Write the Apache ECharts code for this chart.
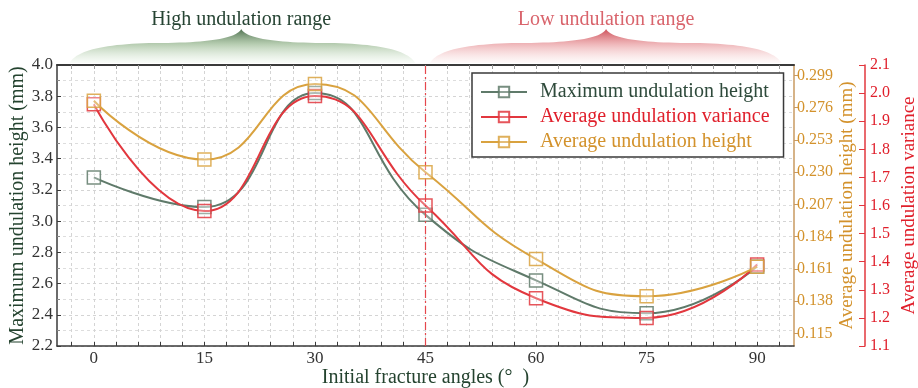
<!DOCTYPE html>
<html>
<head>
<meta charset="utf-8">
<script src="https://cdn.jsdelivr.net/npm/echarts@6/dist/echarts.min.js"></script>
<style>
  html, body { margin: 0; padding: 0; background: #ffffff; }
  #chart { width: 918px; height: 388px; }
</style>
</head>
<body>
<div id="chart"></div>
<script>
// Initial fracture angle (degrees) for each test
const angles = [0, 15, 30, 45, 60, 75, 90];
// Maximum undulation height (mm), left axis
const maxHeight = [3.28, 3.09, 3.82, 3.04, 2.62, 2.41, 2.71];
// Average undulation variance, outer right axis
const avgVariance = [1.96, 1.58, 1.99, 1.60, 1.27, 1.20, 1.39];
// Average undulation height (mm), inner right axis
const avgHeight = [0.281, 0.239, 0.293, 0.230, 0.168, 0.1415, 0.1626];

// Tick labels
const angleTicks = [0, 15, 30, 45, 60, 75, 90];
const angleMinorTicks = [-3, 0, 3, 6, 9, 12, 15, 18, 21, 24, 27, 30, 33, 36, 39, 42, 45, 48,
  51, 54, 57, 60, 63, 66, 69, 72, 75, 78, 81, 84, 87, 90, 93];
const avgHeightTicks = [0.115, 0.138, 0.161, 0.184, 0.207, 0.230, 0.253, 0.276, 0.299];

// Range annotations above the plot (in angle units)
const highRange = { label: 'High undulation range', from: -3.3, to: 43.6, peak: 20 };
const lowRange = { label: 'Low undulation range', from: 45.6, to: 93.3, peak: 69.5 };

const FONT = "'Liberation Serif', 'Times New Roman', serif";
const GREEN = '#5f7a6a';
const RED = '#e2373e';
const GOLD = '#d9a23f';
const GOLD_TEXT = '#d3922c';
const AXIS_DARK = '#3a3a3a';
const GRID_LINE = { show: true, lineStyle: { color: '#d4d4d4', type: [3, 3], width: 1 } };

const chart = echarts.init(document.getElementById('chart'), null, { renderer: 'canvas' });

function pairs(values) {
  return angles.map((a, i) => [a, values[i]]);
}

function markerStyle(color) {
  return {
    color: 'rgba(255,255,255,0.35)',
    borderColor: color,
    borderWidth: 1.5,
    opacity: 0.85
  };
}

const option = {
  backgroundColor: '#ffffff',
  animation: false,
  textStyle: { fontFamily: FONT },
  grid: { left: 57, right: 124, top: 65, bottom: 42, containLabel: false, outerBoundsMode: 'none' },
  legend: {
    orient: 'vertical',
    left: 472,
    top: 73,
    backgroundColor: '#ffffff',
    borderColor: AXIS_DARK,
    borderWidth: 1.5,
    padding: [9, 14, 5, 8],
    itemWidth: 46,
    itemHeight: 13,
    itemGap: 5,
    textStyle: { fontFamily: FONT, fontSize: 20, padding: [0, 0, 0, 8] },
    data: [
      { name: 'Maximum undulation height', textStyle: { color: '#2e4a3b' } },
      { name: 'Average undulation variance', textStyle: { color: '#e01f2b' } },
      { name: 'Average undulation height', textStyle: { color: GOLD_TEXT } }
    ]
  },
  xAxis: [
    {
      type: 'value',
      min: -5,
      max: 95,
      name: 'Initial fracture angles (°  )',
      nameLocation: 'middle',
      nameGap: 22,
      nameMoveOverlap: false,
      nameTextStyle: { fontFamily: FONT, fontSize: 20, color: '#24432f', verticalAlign: 'top' },
      axisLine: { show: true, onZero: false, lineStyle: { color: AXIS_DARK, width: 1.5 } },
      axisTick: { show: true, inside: true, length: 4, customValues: angleMinorTicks,
        lineStyle: { color: AXIS_DARK } },
      axisLabel: { customValues: angleTicks, fontFamily: FONT, fontSize: 17, color: '#333', margin: 4 },
      splitLine: GRID_LINE
    },
    {
      type: 'value',
      position: 'top',
      min: -5,
      max: 95,
      axisLine: { show: true, onZero: false, lineStyle: { color: AXIS_DARK, width: 2 } },
      axisTick: { show: true, inside: true, length: 4, customValues: angleMinorTicks,
        lineStyle: { color: '#999' } },
      axisLabel: { show: false },
      splitLine: { show: false }
    }
  ],
  yAxis: [
    {
      type: 'value',
      position: 'left',
      min: 2.2,
      max: 4.0,
      interval: 0.2,
      name: 'Maximum undulation height (mm)',
      nameLocation: 'middle',
      nameRotate: 90,
      nameGap: 29,
      nameMoveOverlap: false,
      nameTextStyle: { fontFamily: FONT, fontSize: 20, color: '#24432f' },
      axisLine: { show: true, onZero: false, lineStyle: { color: AXIS_DARK, width: 1.5 } },
      axisTick: { show: true, inside: true, length: 4, lineStyle: { color: AXIS_DARK } },
      minorTick: { show: true, splitNumber: 2, length: 3, lineStyle: { color: '#888' } },
      axisLabel: { fontFamily: FONT, fontSize: 17, color: '#333', margin: 4,
        formatter: v => v.toFixed(1) },
      splitLine: GRID_LINE,
      minorSplitLine: { show: true, lineStyle: { color: '#dddddd', type: [3, 3], width: 1 } }
    },
    {
      type: 'value',
      position: 'right',
      min: 0.106,
      max: 0.3065,
      offset: 0,
      name: 'Average undulation height (mm)',
      nameLocation: 'middle',
      nameRotate: 90,
      nameGap: 44,
      nameMoveOverlap: false,
      nameTextStyle: { fontFamily: FONT, fontSize: 19, color: GOLD_TEXT },
      axisLine: { show: true, onZero: false, lineStyle: { color: '#c99a60', width: 1.5 } },
      axisTick: { show: true, inside: false, length: 4, customValues: avgHeightTicks,
        lineStyle: { color: '#c99a60' } },
      axisLabel: { customValues: avgHeightTicks, fontFamily: FONT, fontSize: 16,
        color: GOLD_TEXT, margin: 3, formatter: v => v.toFixed(3) },
      splitLine: { show: false }
    },
    {
      type: 'value',
      position: 'right',
      min: 1.1,
      max: 2.1,
      interval: 0.1,
      offset: 71,
      name: 'Average undulation variance',
      nameLocation: 'middle',
      nameRotate: 90,
      nameGap: 35,
      nameMoveOverlap: false,
      nameTextStyle: { fontFamily: FONT, fontSize: 19, color: '#e01f2b' },
      axisLine: { show: true, onZero: false, lineStyle: { color: RED, width: 1.5 } },
      axisTick: { show: true, inside: true, length: 6, lineStyle: { color: RED } },
      axisLabel: { fontFamily: FONT, fontSize: 16, color: '#e01f2b', margin: 5,
        formatter: v => v.toFixed(1) },
      splitLine: { show: false }
    }
  ],
  series: [
    {
      name: 'Maximum undulation height',
      type: 'line',
      xAxisIndex: 0,
      yAxisIndex: 0,
      smooth: 0.5,
      symbol: 'rect',
      symbolSize: 13,
      data: pairs(maxHeight),
      lineStyle: { color: GREEN, width: 2 },
      itemStyle: markerStyle(GREEN),
      z: 3
    },
    {
      name: 'Average undulation variance',
      type: 'line',
      xAxisIndex: 0,
      yAxisIndex: 2,
      smooth: 0.5,
      symbol: 'rect',
      symbolSize: 13,
      data: pairs(avgVariance),
      lineStyle: { color: RED, width: 2 },
      itemStyle: markerStyle(RED),
      z: 4,
      markLine: {
        silent: true,
        symbol: 'none',
        label: { show: false },
        lineStyle: { color: '#e5474d', width: 1.2, type: [8, 3, 2, 3] },
        data: [{ xAxis: 45 }]
      }
    },
    {
      name: 'Average undulation height',
      type: 'line',
      xAxisIndex: 0,
      yAxisIndex: 1,
      smooth: 0.5,
      symbol: 'rect',
      symbolSize: 13,
      data: pairs(avgHeight),
      lineStyle: { color: GOLD, width: 2 },
      itemStyle: markerStyle(GOLD),
      z: 5
    }
  ]
};

chart.setOption(option);

// Curly-brace shaped mound spanning an angle range, built from quadratic segments
function bracePoints(x0, x1, xc, yBottom, yMid, yTip) {
  const pts = [];
  const quad = (p0, p1, p2, n) => {
    for (let i = 0; i <= n; i++) {
      const t = i / n, u = 1 - t;
      pts.push([u * u * p0[0] + 2 * u * t * p1[0] + t * t * p2[0],
                u * u * p0[1] + 2 * u * t * p1[1] + t * t * p2[1]]);
    }
  };
  const hl = xc - x0, hr = x1 - xc;
  quad([x0, yBottom], [x0 + 0.06 * hl, yMid + 1], [x0 + 0.5 * hl, yMid], 24);
  quad([x0 + 0.5 * hl, yMid], [xc - 0.04 * hl, yMid], [xc, yTip], 24);
  quad([xc, yTip], [xc + 0.04 * hr, yMid], [xc + 0.5 * hr, yMid], 24);
  quad([xc + 0.5 * hr, yMid], [x1 - 0.06 * hr, yMid + 1], [x1, yBottom], 24);
  return pts;
}

function rangeGraphics(range, stops, textColor) {
  const top = chart.convertToPixel({ yAxisIndex: 0 }, 4.0);
  const x0 = chart.convertToPixel({ xAxisIndex: 0 }, range.from);
  const x1 = chart.convertToPixel({ xAxisIndex: 0 }, range.to);
  const xc = chart.convertToPixel({ xAxisIndex: 0 }, range.peak);
  return [
    {
      type: 'polygon',
      silent: true,
      shape: { points: bracePoints(x0, x1, xc, top - 2, top - 22, top - 36) },
      style: { fill: new echarts.graphic.LinearGradient(0, 0, 0, 1, stops) },
      z: 1
    },
    {
      type: 'text',
      silent: true,
      x: xc,
      y: top - 45,
      style: {
        text: range.label,
        fill: textColor,
        font: '20px ' + FONT,
        textAlign: 'center',
        textVerticalAlign: 'middle'
      },
      z: 2
    }
  ];
}

chart.setOption({
  graphic: [].concat(
    rangeGraphics(highRange, [
      { offset: 0, color: 'rgba(70,105,72,0.95)' },
      { offset: 0.45, color: 'rgba(125,165,115,0.55)' },
      { offset: 1, color: 'rgba(200,225,195,0.12)' }
    ], '#264433'),
    rangeGraphics(lowRange, [
      { offset: 0, color: 'rgba(200,62,72,0.92)' },
      { offset: 0.45, color: 'rgba(226,125,130,0.55)' },
      { offset: 1, color: 'rgba(245,205,205,0.12)' }
    ], '#d9646c')
  )
});
</script>
</body>
</html>
